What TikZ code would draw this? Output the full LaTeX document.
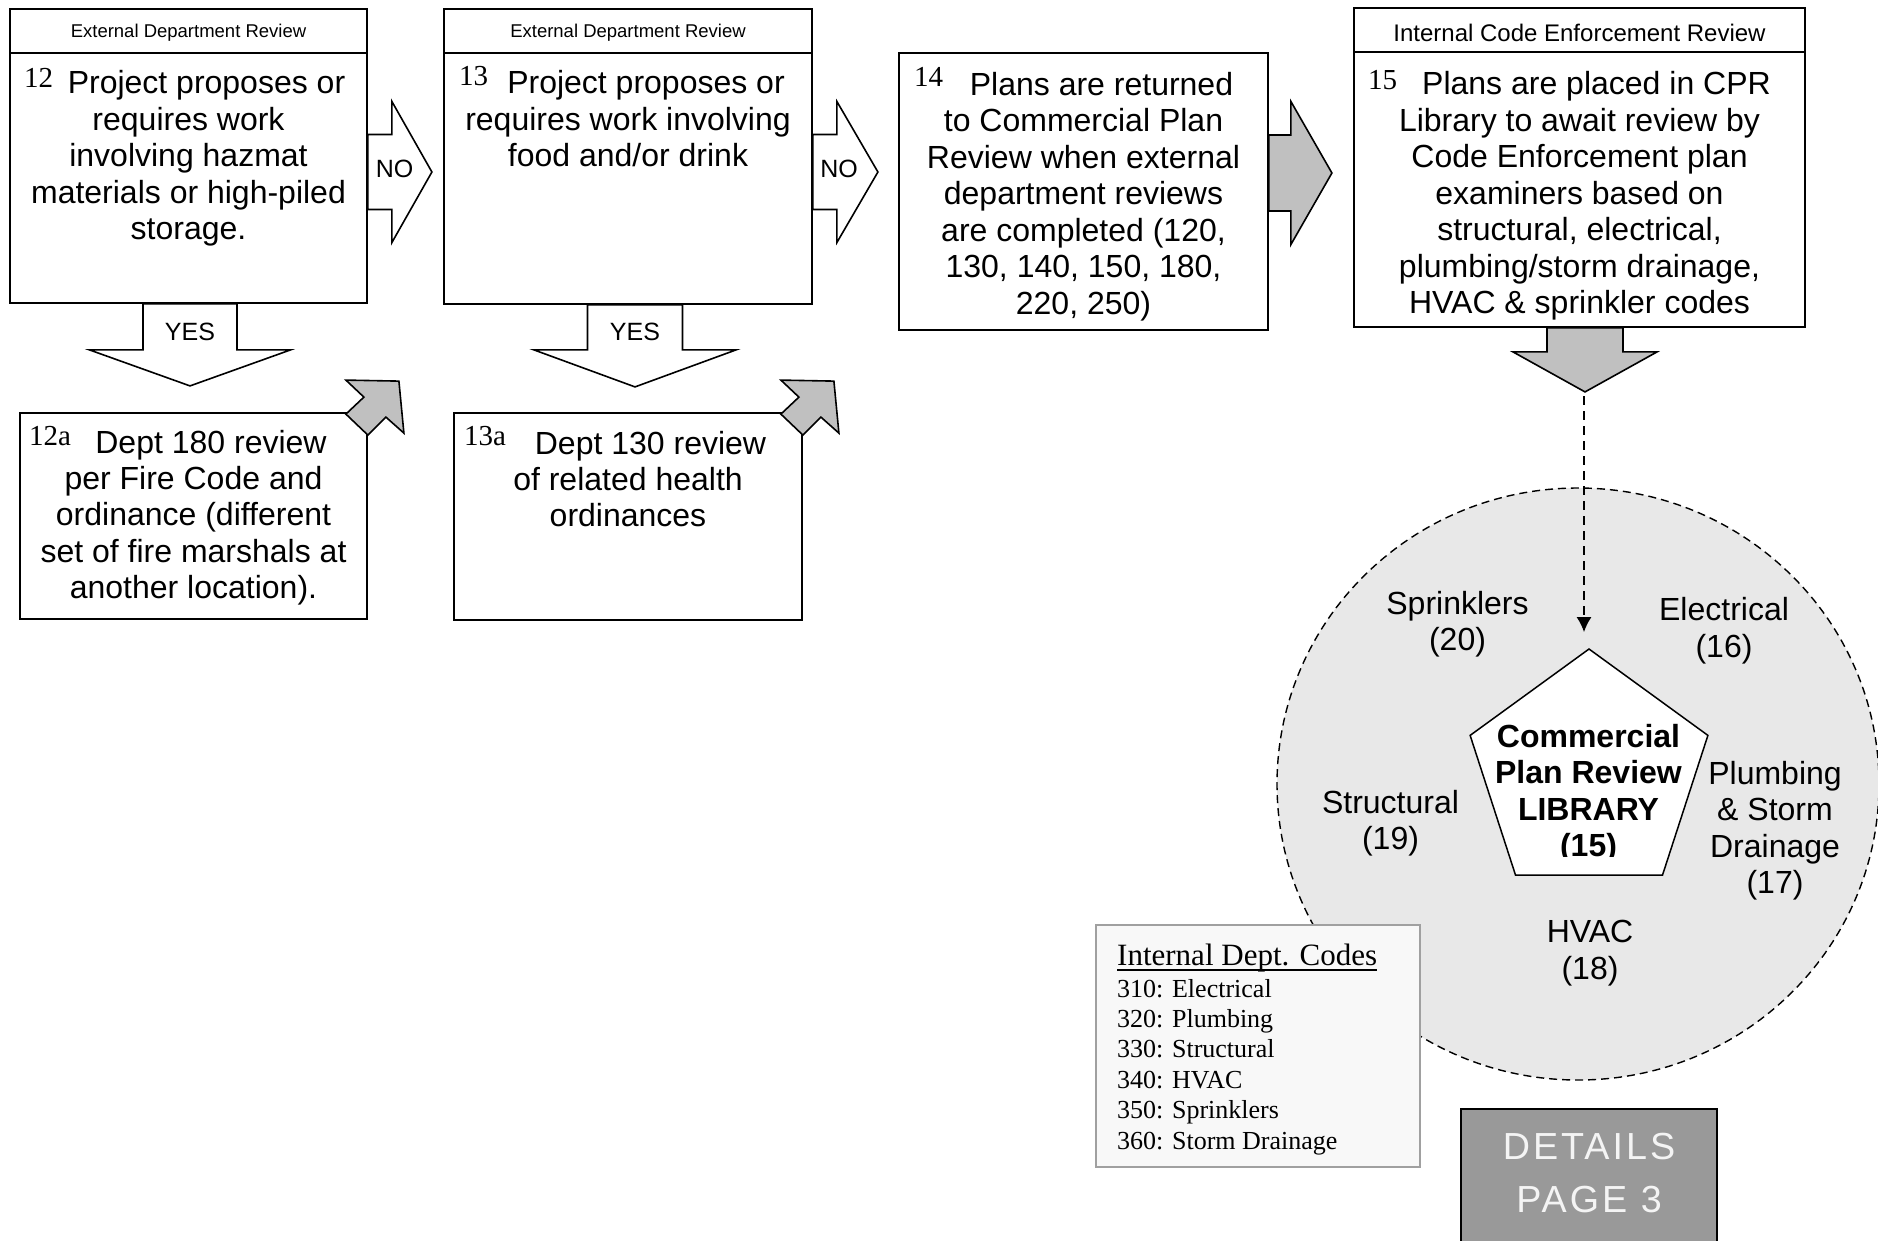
\documentclass[tikz,border=0pt]{standalone}
\usepackage{fontspec}
\setmainfont{Liberation Sans}
\newfontfamily\numfont{Liberation Serif}
\newfontfamily\detailfont[LetterSpace=8]{Liberation Sans}
\usetikzlibrary{calc}
\usetikzlibrary{arrows.meta}
\usetikzlibrary{shapes.geometric}
\definecolor{arrowgray}{HTML}{C0C0C0}
\definecolor{ringgray}{HTML}{E8E8E8}
\definecolor{keyfill}{HTML}{F8F8F8}
\definecolor{keyline}{HTML}{A0A0A0}
\definecolor{detailgray}{HTML}{999999}
\definecolor{detailtext}{HTML}{F4F4F4}
\tikzset{
  pics/rarrow/.style args={#1/#2/#3/#4}{code={
    \path[pic actions] (0,-#1) -- (#2,-#1) -- (#2,-#3) -- (#4,0) -- (#2,#3) -- (#2,#1) -- (0,#1) -- cycle;}},
  pics/darrow/.style args={#1/#2/#3/#4}{code={
    \path[pic actions] (-#1,0) -- (-#1,#2) -- (-#3,#2) -- (0,#4) -- (#3,#2) -- (#1,#2) -- (#1,0) -- cycle;}},
  pics/backarrow/.style={code={
    \path[pic actions] (-22,-32) -- (31,-31) -- (36,21) -- (18,5) -- (0,23) -- (-22,2) -- (-4,-15) -- cycle;}}
}

\begin{document}
\begin{tikzpicture}[x=1pt, y=-1pt,
  box/.style={draw, line width=1.8pt, fill=white, inner sep=0pt},
  head/.style={font=\fontsize{18.5}{22}\selectfont, inner sep=0pt, anchor=base},
  body/.style={font=\fontsize{32}{36.5}\selectfont, align=center, inner sep=0pt, anchor=north},
  num/.style={font=\numfont\fontsize{29}{30}\selectfont, inner sep=0pt, anchor=base west},
  lbl/.style={font=\fontsize{25}{28}\selectfont, inner sep=0pt},
  block/.style={draw, line width=1.6pt, fill=white, line join=miter},
  greyblock/.style={block, fill=arrowgray},
  keytext/.style={font=\numfont\fontsize{26}{30}\selectfont, inner sep=0pt, anchor=base west}]
\useasboundingbox (0,0) rectangle (1878,1240);
\clip (0,0) rectangle (1878,1240);

% review boxes
\node[box, minimum width=357, minimum height=294] (b12) at (188.5,156) {};
\node[box, minimum width=368, minimum height=295] (b13) at (628,156.5) {};
\node[box, minimum width=369, minimum height=277] (b14) at (1083.5,191.5) {};
\node[box, minimum width=451, minimum height=319] (b15) at (1579.5,167.5) {};
\node[box, minimum width=347, minimum height=206] (b12a) at (193.5,516) {};
\node[box, minimum width=348, minimum height=207] (b13a) at (628,516.5) {};
\foreach \b/\y in {b12/53, b13/53, b15/52}
  \draw[line width=1.8pt] (\b.west |- 0,\y) -- (\b.east |- 0,\y);

\node[head] (h12) at (188.5,37.5) {External Department Review};
\node[head] (h13) at (628,37.5) {External Department Review};
\node[head, font=\fontsize{24}{28}\selectfont] (h15) at (1579.5,41) {Internal Code Enforcement Review};

\node[num] (n12) at (24,87.5) {12};
\node[num] (n13) at (459,85.5) {13};
\node[num] (n14) at (914,86.5) {14};
\node[num] (n15) at (1368,89.5) {15};
\node[num] (n12a) at (29,445) {12a};
\node[num] (n13a) at (464,445) {13a};

\node[body] (t12) at (188.5,70.5) {\hspace*{36pt}Project proposes or\\requires work\\involving hazmat\\materials or high-piled\\storage.};
\node[body] (t13) at (628,70.5) {\hspace*{36pt}Project proposes or\\requires work involving\\food and/or drink};
\node[body] (t14) at (1083.5,72) {\hspace*{36pt}Plans are returned\\to Commercial Plan\\Review when external\\department reviews\\are completed (120,\\130, 140, 150, 180,\\220, 250)};
\node[body] (t15) at (1579.5,71.5) {\hspace*{34pt}Plans are placed in CPR\\Library to await review by\\Code Enforcement plan\\examiners based on\\structural, electrical,\\plumbing/storm drainage,\\HVAC \& sprinkler codes};
\node[body, font=\fontsize{32}{36.3}\selectfont] (t12a) at (193.5,430) {\hspace*{35pt}Dept 180 review\\per Fire Code and\\ordinance (different\\set of fire marshals at\\another location).};
\node[body, font=\fontsize{32}{36.3}\selectfont] (t13a) at (628,431) {\hspace*{45pt}Dept 130 review\\of related health\\ordinances};

% block arrows
\pic[block] at (b12.east |- 0,172) {rarrow=37.5/24/70.5/64};
\pic[block] at (b13.east |- 0,172) {rarrow=37.5/24/70.5/65};
\pic[greyblock] at (b14.east |- 0,173) {rarrow=38/22/71.5/63};
\pic[block] at (190,0 |- b12.south) {darrow=47/46/100.5/82};
\pic[block] at (635,0 |- b13.south) {darrow=47.5/45/101/82};
\pic[greyblock] at (1585,0 |- b15.south) {darrow=38/24/72/64};
\pic[greyblock] at (b12a.north east) {backarrow};
\pic[greyblock] at (b13a.north east) {backarrow};
\node[lbl] (no12) at (394.5,169) {NO};
\node[lbl] (no13) at (839,169) {NO};
\node[lbl] (yes12) at (190,331.5) {YES};
\node[lbl] (yes13) at (635,331.5) {YES};

% library ring
\node[ellipse, draw, fill=ringgray, line width=1.4pt, dash pattern=on 8pt off 5pt,
  minimum width=602, minimum height=592, inner sep=0pt] (ring) at (1578,784) {};
\node[regular polygon, regular polygon sides=5, draw, fill=white, line width=1.5pt,
  minimum size=250, inner sep=0pt] (lib) at (1589,774) {};
\coordinate (drop) at (1584,396);
\draw[line width=1.4pt, dash pattern=on 9pt off 6pt, shorten >=16pt, -{Latex[length=15pt,width=15pt]}]
  (drop) -- (drop |- lib.corner 1);
\begin{scope}
\clip (1450,700) rectangle (1730,856);
\node[body, font=\bfseries\fontsize{32}{36.5}\selectfont] (libtext) at (1588.5,724) {Commercial\\Plan Review\\LIBRARY\\(15)};
\end{scope}
\foreach \x/\y/\t [count=\k] in {1457.5/591/{Sprinklers\\(20)}, 1724/597.5/{Electrical\\(16)},
    1390.5/790/{Structural\\(19)}, 1590/920/{HVAC\\(18)}, 1775/761/{Plumbing\\\& Storm\\Drainage\\(17)}}
  \node[body] (trade\k) at (\x,\y) {\t};

% code list
\node[draw=keyline, fill=keyfill, line width=1.8pt, minimum width=324, minimum height=242, inner sep=0pt] (codes) at (1258,1046) {};
\node[font=\numfont\fontsize{31}{34}\selectfont, inner sep=0pt, anchor=base west] (codetitle) at (1117,965) {Internal Dept. Codes};
\draw[line width=1.5pt] ($(codetitle.base west)+(0,5)$) -- ($(codetitle.base east)+(0,5)$);
\foreach \entry [count=\i from 0, evaluate=\i as \yy using 997+30.4*\i] in
    {310: Electrical, 320: Plumbing, 330: Structural, 340: HVAC, 350: Sprinklers, 360: Storm Drainage}
  \node[keytext] (code\i) at (1117,\yy) {\entry};

% page pointer
\node[draw, line width=1.8pt, fill=detailgray, minimum width=256, minimum height=200, inner sep=0pt, anchor=north west] (details) at (1460,1108) {};
\node[font=\detailfont\fontsize{37.7}{53}\selectfont, text=detailtext, align=center, inner sep=0pt, anchor=north] (detailtxt) at (1589,1133) {DETAILS\\PAGE 3};
\end{tikzpicture}
\end{document}
